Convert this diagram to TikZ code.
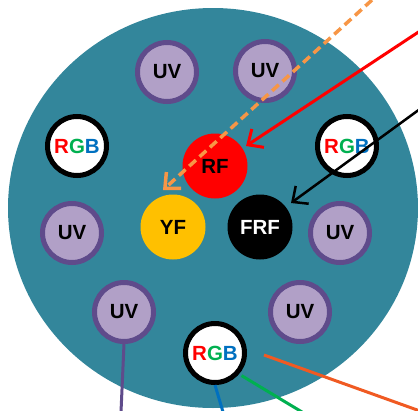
\documentclass[tikz,border=0pt]{standalone}
\usepackage{fontspec}
\setmainfont{Liberation Sans}
\usetikzlibrary{arrows.meta}

\definecolor{teal}{HTML}{33869B}
\definecolor{uvfill}{HTML}{B1A0C7}
\definecolor{uvdraw}{HTML}{5F4B8B}
\definecolor{rgbred}{HTML}{FF0000}
\definecolor{rgbgreen}{HTML}{00B050}
\definecolor{rgbblue}{HTML}{0070C0}
\definecolor{yfill}{HTML}{FFC000}
\definecolor{orangedash}{HTML}{F79646}
\definecolor{orangered}{HTML}{F05A22}

\newcommand{\rgbtext}{{\color{rgbred}R}{\color{rgbgreen}G}{\color{rgbblue}B}}

\begin{document}
\begin{tikzpicture}[x=1pt,y=-1pt,
  lamp/.style={circle, inner sep=0pt, font=\fontsize{20.5}{20}\selectfont\bfseries},
  uvlamp/.style={lamp, fill=uvfill, draw=uvdraw, line width=5pt, minimum size=59pt},
  rgblamp/.style={lamp, fill=white, draw=black, line width=5pt, minimum size=59pt},
  solidlamp/.style={lamp, minimum size=65pt},
  barb/.style={-{Straight Barb[length=12pt,width=22pt]}},
  wire/.style={line width=3pt}]

\useasboundingbox (0,0) rectangle (418,410);

% Housing
\fill[teal] (213,208) ellipse [x radius=205, y radius=200];

% UV lamps
\node[uvlamp] (uv1) at (167,72) {UV};
\node[uvlamp] (uv2) at (265,71) {UV};
\node[uvlamp] (uv3) at (72,233) {UV};
\node[uvlamp] (uv4) at (340,233) {UV};
\node[uvlamp] (uv5) at (124,312) {UV};
\node[uvlamp] (uv6) at (300,312) {UV};

% RGB lamps
\node[rgblamp] (rgb1) at (77,146) {\rgbtext};
\node[rgblamp] (rgb2) at (347,146) {\rgbtext};
\node[rgblamp] (rgb3) at (215,353) {\rgbtext};

% Centre lamps
\node[solidlamp, fill=rgbred] (rf) at (215,166) {RF};
\node[solidlamp, fill=yfill] (yf) at (173,227) {YF};
\node[solidlamp, fill=black, text=white] (frf) at (260,227) {FRF};

% Free ends of the wires
\coordinate (orangeIn) at (372,0);
\coordinate (yfTip) at (163,190);
\coordinate (redIn) at (420,31);
\coordinate (rfTip) at (246,146);
\coordinate (blackIn) at (420,109);
\coordinate (frfTip) at (291,203);
\coordinate (purpleOut) at (121,412);
\coordinate (blueOut) at (223,412);
\coordinate (greenOut) at (302,412);
\coordinate (orangeOut) at (420,411);

% Incoming arrows
\draw[barb, orangedash, line width=3.5pt, dash pattern=on 9pt off 5pt] (orangeIn) -- (yfTip);
\draw[barb, wire, rgbred] (redIn) -- (rfTip);
\draw[barb, line width=2.5pt, black] (blackIn) -- (frfTip);

% Outgoing wires
\draw[wire, uvdraw] (uv5.south) -- (purpleOut);
\draw[wire, rgbblue] (rgb3.south) -- (blueOut);
\draw[wire, rgbgreen] (rgb3.-40) ++(2,2) -- (greenOut);
\draw[wire, orangered] (rgb3.east) ++(17,2) -- (orangeOut);

\end{tikzpicture}
\end{document}
